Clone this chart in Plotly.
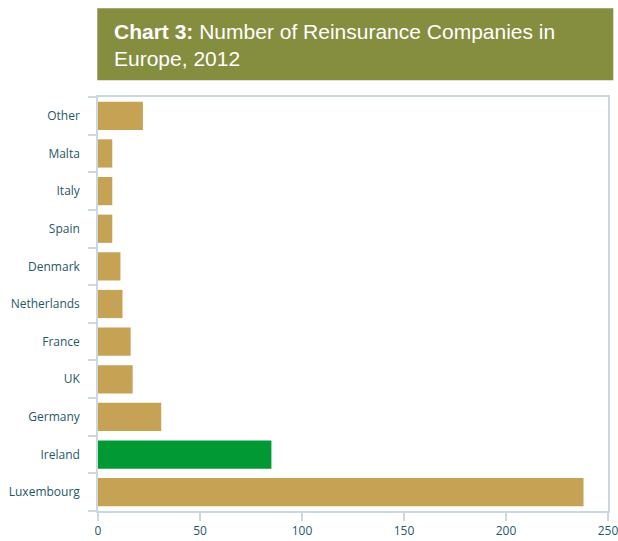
"""Chart 3: Number of Reinsurance Companies in Europe, 2012."""

import plotly.graph_objects as go

# Paleta
OURO = "#c5a254"
VERDE = "#009933"
OLIVA = "#858d3f"
EIXO = "#cbd8df"
TEXTO = "#1f5868"

paises = [
    "Luxembourg", "Ireland", "Germany", "UK", "France", "Netherlands",
    "Denmark", "Spain", "Italy", "Malta", "Other",
]
empresas = [238, 85, 31, 17, 16, 12, 11, 7, 7, 7, 22]
x_ticks = [0, 50, 100, 150, 200, 250]

cores = [VERDE if p == "Ireland" else OURO for p in paises]

fig = go.Figure(go.Bar(
    y=paises, x=empresas, orientation="h",
    marker=dict(color=cores, line=dict(width=0)),
    hoverinfo="x+y",
))

fig.update_layout(
    width=618, height=541,
    margin=dict(l=98, r=10, t=97, b=30),
    paper_bgcolor="white", plot_bgcolor="white",
    bargap=0.25,
    showlegend=False,
    font=dict(family="Open Sans, sans-serif", size=12, color=TEXTO),
)

fig.update_xaxes(
    range=[0, 250], tickvals=x_ticks, showgrid=False, zeroline=False,
    showline=True, mirror=True, linecolor=EIXO, linewidth=1.5,
    ticks="outside", ticklen=8, tickcolor=EIXO, tickwidth=1.5,
    tickfont=dict(size=12, color=TEXTO), automargin=False,
    ticklabeloverflow="allow",
)
fig.update_yaxes(
    categoryorder="array", categoryarray=paises,
    showgrid=False, zeroline=False,
    showline=True, mirror=True, linecolor=EIXO, linewidth=1.5,
    ticks="outside", tickson="boundaries", ticklen=8, tickcolor=EIXO, tickwidth=1.5,
    ticklabelstandoff=14, automargin=False,
    tickfont=dict(size=12, color=TEXTO),
)

# caixa do título
fig.add_shape(
    type="rect", xref="paper", yref="paper",
    x0=-0.0014, x1=1.0104, y0=1.0402, y1=1.2143,
    fillcolor=OLIVA, line=dict(width=0), layer="above",
)
fig.add_annotation(
    xref="paper", yref="paper", x=0.028, y=1.125,
    xanchor="left", yanchor="middle", align="left", showarrow=False,
    text="<b>Chart 3:</b> Number of Reinsurance Companies in<br>Europe, 2012",
    font=dict(family="Liberation Sans, Arial, sans-serif", size=21, color="white"),
)

# sem margem do body, para a figura ocupar a janela toda
fig.write_html(
    "out.html",
    config={"displayModeBar": False},
    post_script="document.body.style.margin='0';",
)
